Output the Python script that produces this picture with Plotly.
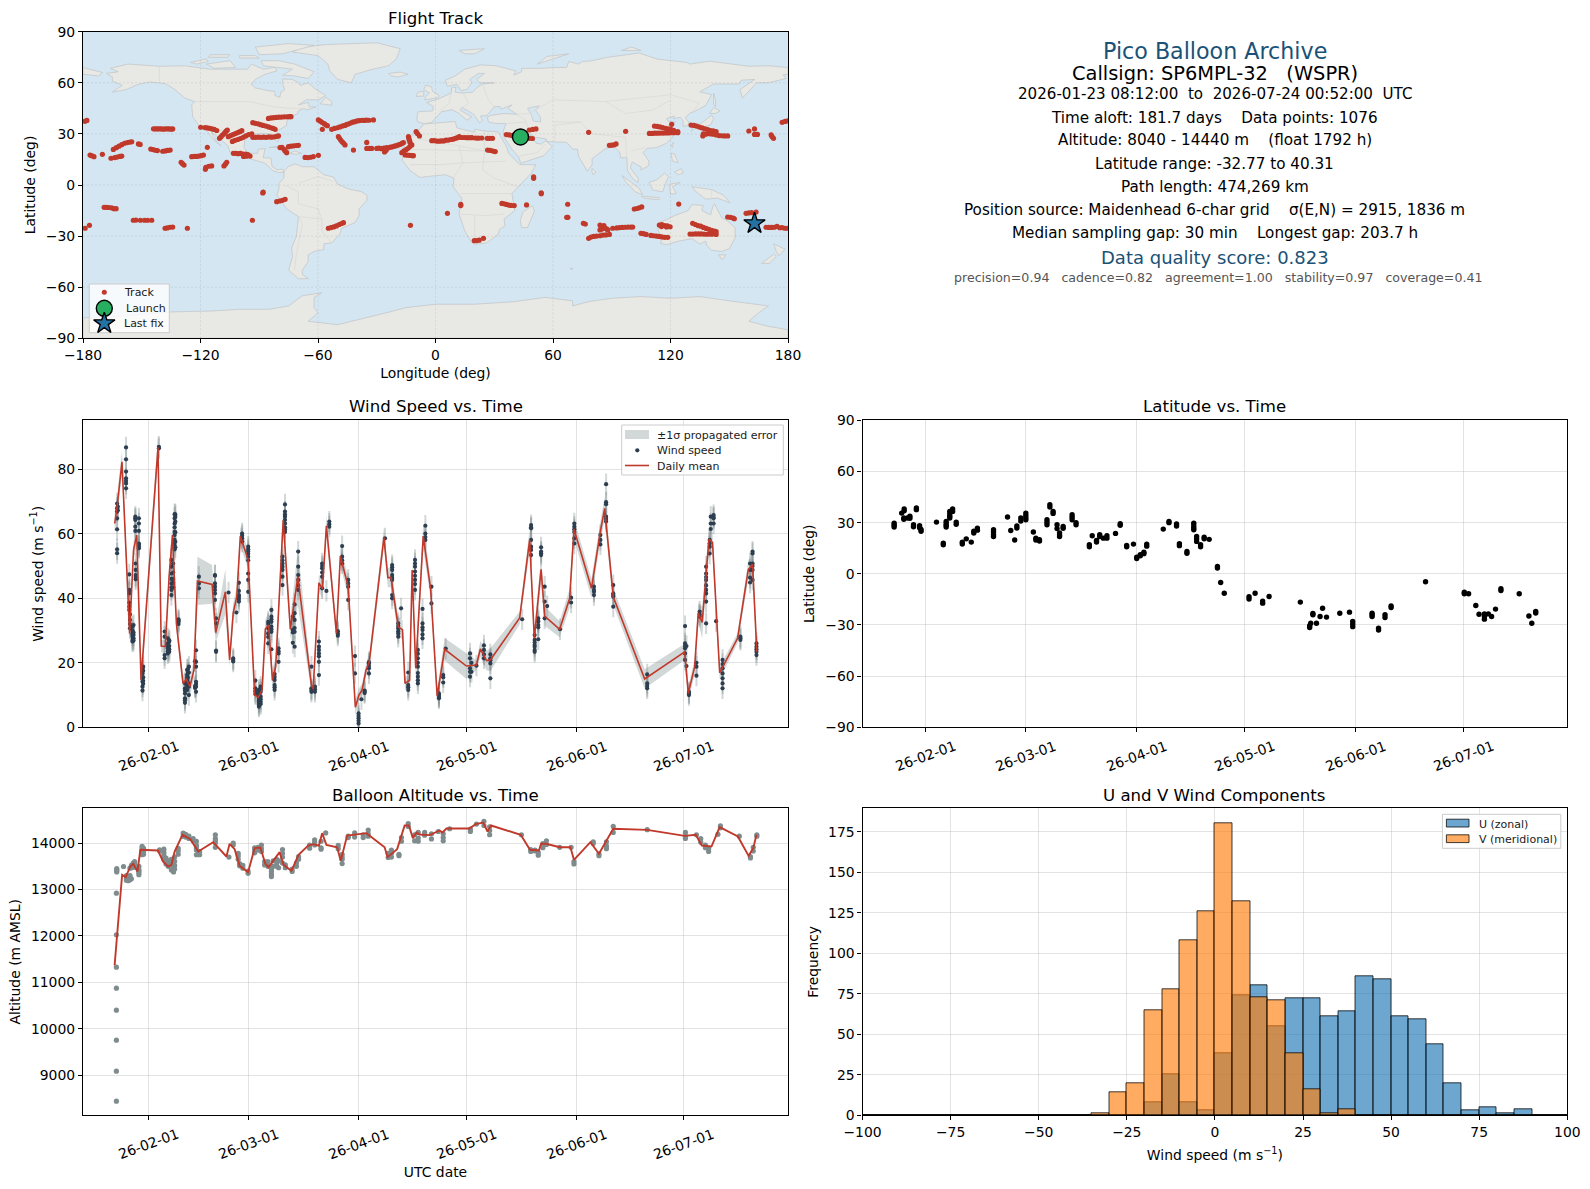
import pandas as pd
import plotly.graph_objects as go

W, H = 1590, 1189
FONT = "DejaVu Sans"
RED = "#c0392b"

# --- land outlines traced by eye (lon, lat) ---
land_polys = [
    # north + central america
    [(-168,65.5),(-162,66.5),(-166,68.5),(-157,71),(-141,69.7),(-128,70),(-115,68),(-108,68),(-96,68),(-94,71),(-88,68),(-82,69),(-81,67),(-87,65),(-92,62),(-94,59),(-92,57),(-85,55.3),(-82,55),(-82,52.5),(-79.5,51.5),(-79,54.5),(-77,56),(-78,59),(-78,62.3),(-73,62),(-70,60),(-69,58.5),(-65,60),(-61.5,56.5),(-56,52.5),(-60,50),(-66,50),(-70,47),(-65,48.5),(-64.5,46),(-61,45.8),(-66,44),(-67,45),(-70,43.5),(-70.5,41.7),(-74,40.5),(-76,37),(-76,35),(-81,31.5),(-80,27),(-80.5,25.3),(-82,27),(-84,30),(-89,30.2),(-94,29.5),(-97.3,27),(-97.8,22),(-95.5,18.7),(-91,18.5),(-90.5,21),(-87,21.4),(-88,16),(-84,15.8),(-83.5,11),(-81,9),(-78,9.3),(-77.3,7.5),(-80,7.3),(-83,8.3),(-87,12.8),(-92,14.5),(-96,15.8),(-105,19.5),(-106,23),(-112,29),(-114.7,31.5),(-112,26),(-109.5,23),(-112,25),(-115,29),(-117,32.5),(-120.5,34.5),(-124,40),(-124.5,47),(-123,49),(-128,51),(-133,56),(-138,59.5),(-146,60.5),(-152,59),(-158,56),(-165,54.5),(-160,58.5),(-165,61),(-165,63.5)],
    # greenland and arctic islands
    [(-73,78),(-68,81),(-55,82.5),(-30,83.5),(-18,80),(-20,74),(-24,70),(-33,67.7),(-41,65),(-43,60),(-50,62),(-54,67),(-55,71),(-60,76)],
    [(-80,73),(-72,71),(-62,66.5),(-65,62.5),(-72,64),(-78,64.5),(-73,68),(-88,70),(-89,73)],
    [(-117,71),(-105,73),(-102,69),(-113,68.5)],
    [(-90,76.5),(-78,77),(-62,82),(-75,83),(-92,81)],
    [(-125,72),(-117,74),(-116,72.5),(-122,71)],
    [(-100,76),(-92,76),(-90,74.5),(-100,74.5)],
    [(-115,76.5),(-105,76.5),(-106,75),(-116,75)],
    # caribbean, n. atlantic
    [(-59,47.7),(-53,46.8),(-53,49),(-56,51.5)],
    [(-85,22),(-80,23),(-74.3,20.2),(-77.7,19.9),(-81,22)],
    [(-74.4,18.5),(-72,20),(-68.4,18.6),(-71,18)],
    [(-24,65.5),(-18,66.3),(-14,65),(-19,63.4),(-22.7,64)],
    [(-5.5,50),(1.5,51.2),(1.7,52.8),(-1.5,55),(-2,57.7),(-5,58.6),(-6,56),(-3,54),(-5,52)],
    [(-10,52),(-6,52.2),(-6,55),(-9,54.5)],
    # south america
    [(-77.3,8),(-75,11),(-71.5,12.4),(-68,10.7),(-62,10.7),(-57,6),(-52,4.7),(-50,0.5),(-44,-2.5),(-38,-3.8),(-35,-6),(-35,-9),(-39,-14),(-39,-18),(-41,-22),(-48,-25.5),(-48.7,-28.5),(-53,-34),(-57,-34.5),(-57,-38),(-62,-39),(-65,-41),(-65,-45),(-68,-50),(-68,-52.5),(-65,-55),(-70,-55),(-75,-50),(-73,-42),(-73.5,-37),(-71,-30),(-70,-18.5),(-76,-14),(-81,-6),(-80,-2.5),(-80,1),(-77.5,4),(-77.5,7.5)],
    # africa, madagascar
    [(-6,35.8),(10,37.3),(11,33.5),(15,32.3),(20,31),(20,32.7),(25,31.7),(32,31.3),(32.5,30),(36,23),(37.5,18.5),(43,12),(51.2,11.9),(49,7),(42,-1),(39,-5),(40.5,-15),(35,-20),(35.5,-24),(32.7,-26),(32,-29),(26,-34),(20,-34.8),(18,-33),(15,-27),(12,-17),(13.5,-8),(9,-1),(9.5,4),(5,6),(-4,5),(-8,4.4),(-13,8.5),(-17,14.5),(-16,19),(-17,21),(-13,27.5),(-9.5,31)],
    [(49.5,-12),(50.5,-15.5),(47,-25),(44,-25),(43.3,-21),(44.5,-16)],
    # eurasia
    [(-9,37),(-9.5,39),(-9,43),(-1.5,43.5),(-1,46),(-4.5,48.4),(1.5,50.5),(4,52),(8,54),(8.3,57),(10.5,57.5),(10,54.5),(14,54),(19,54.5),(21,57),(24,59.3),(30,60),(22.5,60),(21,62),(25,65.5),(22,65.5),(17.5,62),(18.5,60),(16,56),(13,55.5),(11,59),(6,58),(5,61.5),(10,64),(15,68),(23,70.5),(31,70),(41,67),(40,64.5),(44,66.5),(44,68.5),(54,68.5),(60,69),(67,69),(68,72.5),(73,71),(75,72.5),(80,73),(88,75),(104,77.5),(113,74),(128,72),(130,71),(140,72.7),(160,69.7),(170,70),(180,69),(180,65),(177.5,64.7),(179,62.5),(170,60),(164,60),(162,57.5),(156.7,51),(155.5,56),(158,58),(163,62),(156,61.5),(155,59.3),(142,59.3),(135,54.7),(141,53),(138,46.7),(132,43),(130,42.3),(127.5,39.5),(129.3,37),(129,35),(126.3,34.5),(126.5,37.5),(125,39.7),(121.5,39),(122,40.5),(118,39),(119,37.3),(122.5,37),(119,35),(122,31),(121,28),(118,24.5),(113,22),(108,21.5),(106,19),(109,14),(109,11.5),(105,8.7),(105,10.5),(100.5,13.5),(99.5,10),(103.5,4),(103.5,1.3),(100.5,4),(98,8.5),(97.7,16),(94.5,16),(94,19.5),(91,22.5),(87,21.5),(80,15.5),(80,12),(77.5,8),(73,17),(72.5,21),(70,21),(68,23.5),(67,25),(57,25.5),(56.5,27),(51,28),(48,30),(50,26.5),(51.5,24.5),(54,24),(56.3,26),(59.7,22.5),(55,17),(52,16),(43.5,12.7),(42.5,16.5),(39,21),(35,28),(34.5,31.3),(36,36),(30,36.2),(27,37),(26.5,40),(29,41),(35,42),(41.5,41.5),(37,45),(39,47),(35,45.5),(33.5,44.5),(33,46),(30,46),(28,43),(26,40.8),(23,40.5),(24,38),(22.5,36.5),(19.5,41.5),(13.5,45.5),(12.5,44),(18.5,40),(16,38),(12,42),(8.5,44.2),(3,43),(0,39.5),(-2,36.7),(-5.5,36)],
    [(-180,65),(-172,64),(-170,66),(-175,67.5),(-180,69)],
    # asia islands
    [(142,54),(143,50),(143,46),(142,47.5)],
    [(130.5,31.5),(131.5,34),(136,36.5),(141,41),(142,39),(140.5,35.3),(136,33.7),(132,33)],
    [(140,42),(142,45.5),(145.3,43.5),(143,42)],
    [(120.3,18.5),(122,18.3),(124,13),(121,14)],
    [(122,7.5),(125.5,9.7),(126.5,7),(124,6)],
    [(120.2,23),(121.5,25),(121,22)],
    [(109,1.5),(113,3),(117,7),(119,5),(117.5,1),(116,-4),(111,-3),(109.5,0)],
    [(95.3,5.6),(104,-2),(105.8,-5.8),(102,-4),(97,2)],
    [(105,-6.5),(114.5,-7.5),(114,-8.7),(106,-7.6)],
    [(119.5,0.5),(125,1.5),(121,-1),(123,-5),(120,-5.5)],
    [(131,-1),(141,-2.7),(147,-6),(150.5,-10.5),(144,-7.7),(138,-8.3),(133,-4)],
    [(80,9.7),(82,7.5),(80.5,6),(79.8,8)],
    # australia, nz
    [(114,-22),(113.5,-26),(115.5,-32),(115,-34.3),(118,-35),(124,-33),(131,-31.5),(135,-34.7),(138,-33),(138.5,-35.5),(141,-38.3),(146,-39),(150,-37.5),(153,-31),(153,-25),(149,-21),(146,-19),(142.5,-11),(141.5,-13),(140.5,-17.5),(136,-15),(136.7,-12),(131,-11.5),(129,-15),(122,-18),(118,-20.3)],
    [(144.7,-41),(148.3,-41),(147,-43.5),(146,-43.5)],
    [(172.7,-34.5),(178.5,-37.7),(175.3,-41.6),(174,-39)],
    [(172.7,-40.6),(174,-42),(170.5,-46),(166.5,-46),(170,-43)],
    [(68.7,-49),(70.3,-49),(69.5,-49.7)],
    # far north
    [(12,79),(25,80),(20,77),(15,77)],
    [(52,71),(68,77),(57,75.5)],
    [(95,79),(105,79),(100,81)],
    # antarctica
    [(-180,-90),(-180,-78),(-160,-77),(-150,-76),(-135,-74.5),(-115,-74),(-100,-73),(-85,-73),(-75,-71),(-68,-65),(-58,-63.3),(-62,-66),(-62,-72),(-60,-75),(-65,-80),(-50,-82),(-35,-78),(-25,-75),(-15,-72),(0,-70),(20,-70),(40,-68.5),(56,-66),(70,-68),(70,-71),(78,-68.5),(90,-66.5),(105,-65.5),(120,-66.5),(135,-65.5),(150,-68),(170,-71),(165,-75),(160,-80),(170,-83),(180,-85),(180,-90)],
]
caspian = [(47,45),(53,46.5),(51,44),(53.5,40),(53.7,37),(50,37.5),(49,41)]
border_lines = [
    [(-141,69.7),(-141,60.5)], [(-123,49),(-95,49),(-83,46),(-75,45),(-67,45)], [(-117,32.5),(-106,31.7),(-97.3,26)],
    [(-70,-18.5),(-58,-20),(-58,-27),(-53,-34)], [(-70,-18.5),(-68,-23),(-71,-40),(-72,-50)], [(-77,0),(-70,-4),(-70,-11),(-60,-14),(-58,-20)], [(-70,1),(-60,5),(-52,2)],
    [(-17,21),(25,20),(25,31.7)], [(-9,27),(12,23),(25,20)], [(12,23),(14,13),(9,4)], [(25,20),(24,9),(30,4),(42,-1)], [(-13,12),(3,12),(14,13),(36,14)], [(13,-5),(30,-5),(39,-5)], [(12,-17),(25,-18),(35,-17)], [(20,-34),(20,-18)],
    [(2,43),(7,48),(8,54)], [(14,54),(17,48),(13.5,45.5)], [(24,59),(27,50),(30,46)], [(41.5,41.5),(48,42),(60,50),(87,49),(120,53),(135,48),(131,43)], [(87,49),(97,42),(111,44),(120,50)], [(60,37),(74,37),(80,30),(97,28)], [(61,25),(61,35),(74,37)], [(48,30),(46,38),(41.5,41.5)], [(36,36),(46,37)], [(43,17),(52,19),(56,24)], [(97,28),(98,10)], [(100,20),(107,22)], [(141,-2.7),(141,-9)],
]

# --- flight track (lon, lat) ---
track_pts = [
    (-179,37.4),(-178,37.9),
    (-144,33),(-143,32.9),(-142,33),(-141,32.9),(-140,33),(-139,32.8),(-138,33),(-137,32.9),(-136,33),(-135,32.8),(-134.2,32.9),
    (-119.9,33.9),(-117.7,33.7),(-116.5,33.5),(-115.3,33.3),(-114.2,33),(-113,32.6),(-111.7,32),
    (-110.3,27.4),(-109.6,28.2),(-108.9,29.2),(-108.2,29.9),(-107.5,30.8),(-106.9,31.6),(-106.3,32.3),
    (-105.8,28.4),(-104.6,29),(-103.4,29.6),(-102.2,30.2),(-101,30.8),(-99.9,31.3),(-98.9,31.9),
    (-103.7,25.6),(-102.4,26.2),(-101,26.7),(-99.6,27.3),(-98.2,28),(-96.9,28.8),(-95.4,29.6),(-93.8,30),
    (-93.3,36.6),(-92,36.2),(-90.6,35.9),(-89.3,35.4),(-88,35),(-86.6,34.6),(-85.2,34.1),(-84,33.6),(-82.9,33.2),(-81.9,32.7),
    (-93.3,28),(-92,28),(-90.6,28.1),(-89.2,28),(-87.8,28.1),(-86.4,28),(-85,28.2),(-83.6,28.1),(-82.2,28.3),(-81.1,28.5),(-80.2,28.8),
    (-85.3,39.1),(-84,39.4),(-82.7,39.5),(-81.3,39.7),(-80,39.8),(-78.6,39.9),(-77.2,40),(-75.8,40),(-74.6,40.1),(-73.8,40.1),
    (-59.8,38.2),(-58.8,37.5),(-57.8,36.7),(-56.8,36),(-56,35.3),(-55.2,34.8),(-57.8,32.7),
    (-53,32.7),(-51.6,33.2),(-50.2,33.6),(-48.8,34.1),(-47.4,34.7),(-46.2,35),(-45.3,35.6),
    (-44.5,35.8),(-43.4,36.4),(-42.3,36.9),(-41.2,37.2),(-40,37.6),(-38.8,37.8),(-37.6,38),(-36.4,37.9),(-35.2,38.1),(-34,38),(-31.7,38.2),
    (-49.6,28.4),(-49,27.4),(-48.4,26.4),(-47.7,25.4),(-47,24.6),(-46.2,23.5),
    (-35.1,25),(-35.1,21.5),(-33.8,21.5),(-32.6,21.5),(-41.9,20.5),
    (-30,21.5),(-28.8,21.6),(-27.6,21.3),(-26.4,21.6),(-26,19.4),(-25.2,20.4),(-25,21.9),(-24,21.8),(-23,22.2),(-22,22.4),(-21,22.8),(-20,23.1),(-19,23.5),(-18,23.9),(-17.2,24.4),(-16.4,24.9),
    (-17.2,19),(-16.2,19.9),(-15.2,20.6),(-14.2,21.4),(-13.2,22.4),(-12.1,23.5),
    (-13.8,28.4),(-13.6,27.2),(-13.3,26.2),(-13,25),(-12.5,23.5),
    (-15.5,17.6),(-14.2,17.5),(-13,17.4),(-11.8,17.2),(-11.3,17.2),
    (-9.9,31.3),(-9.2,30.2),(-8.2,28.8),
    (-1.9,26),(-0.6,26),(0.6,25.8),(1.8,25.7),(3,25.9),(4.2,25.9),(5.4,26.3),(6.6,26.4),(7.8,26.7),(9,26.9),(10.2,27.4),(11.2,27.8),(12.1,28.4),(13.2,27.9),(14.6,27.9),(16,27.8),(17.4,27.8),(18.6,27.8),(20.4,27.6),(21.8,27.5),(23.6,27.6),(26.4,27.4),(27.6,27.4),(29.1,27.4),
    (-164.5,20.9),(-163,21.9),(-161.6,22.8),(-160.2,23.7),(-158.8,24.5),(-157.4,24.9),(-156,25.2),(-155.1,25.4),
    (-151.7,24.1),(-150.8,23.8),
    (-176.4,17.6),(-175.6,17.2),(-174.4,16.6),(-170.1,18),
    (-165.7,15.7),(-163.8,16.1),(-162.6,16.4),(-161.2,16.8),(-160.2,17),
    (-145.4,21.1),(-144.2,20.8),(-143,20.4),(-142,20.2),(-139.3,19.8),(-138,20),(-136.8,20.3),(-135.5,20.5),
    (-116.5,22.1),(-129.9,13.3),(-129.2,12.5),(-128.4,11.7),
    (-124.5,16.6),(-123.2,16.8),(-122,16.8),(-120.8,17),(-119.6,17.2),(-118.5,17.6),
    (-117.5,9.2),(-117.3,10.4),(-115.8,11),(-114.3,11.2),(-108,11.2),(-107.3,12.2),(-106.6,13.3),
    (-103.2,18.6),(-102,18.6),(-100.8,18.4),(-99.6,18.6),(-98.4,18.2),(-98,16.8),(-97,18.2),(-96.6,16.9),(-95.8,17.8),(-94.7,17),
    (-79.4,22),(-78.4,22.1),(-77.4,21),(-76.8,20),(-76,19),(-75.1,22.5),(-73.8,22.8),(-72.4,23),(-71,23.2),(-70,23.3),
    (-66.6,16.2),(-65.2,16.1),(-63.8,16.3),(-62.4,16.7),(-59.8,17.4),
    (-88.2,-4.7),(-88,-4.2),(-81.1,-9.8),(-79.6,-9.4),(-78.2,-9),(-76.8,-8.4),
    (-169.2,-13.1),(-168,-13.1),(-166.8,-13.2),(-165.4,-13.4),(-164.2,-13.9),(-163.1,-13.9),
    (-154.3,-20.7),(-153,-20.6),(-150.7,-20.7),(-148.6,-20.7),(-147,-20.7),(-144.9,-20.7),
    (-138.1,-25.4),(-137,-25.2),(-135.6,-24.8),(-134.2,-24.7),(-126.7,-25.4),(-93.5,-20.7),
    (-54.7,-25.4),(-53.4,-25),(-52,-24.6),(-50.6,-24),(-49.2,-23.2),(-48,-22.6),(-47,-22.1),(-12.8,-23.7),
    (-178.9,-25.4),(-176.7,-23.7),
    (26.6,20.5),(28,20.3),(29.4,19.9),(30.5,19.6),
    (36.2,29.6),(37.6,29.4),(39,29),(40,29.4),(47.9,32.3),(49.6,32.6),(51.3,32.9),(47.9,27.4),(49.5,27.3),
    (50.1,3.9),(50.1,4.8),(54,-5.1),(54,-4.6),(46.5,-11.7),(12.9,-12.1),(12.9,-11.4),(6.1,-16.6),
    (33.9,-10.8),(35,-11),(36.2,-11.4),(37.4,-11.8),(38.6,-12),(40.2,-12.1),
    (19.8,-32.7),(21,-32.6),(22.3,-32.4),(24.5,-31.3),
    (67.5,-11.3),(67,-19),(67.6,-19),(75.5,-22.5),(76.5,-22.9),
    (78.2,30.9),(97.1,31.5),(88.8,23.3),(90,23.4),(91.2,23.6),(92.2,24.1),
    (109.2,30.3),(110.6,30.3),(112,30.4),(113.4,30.4),(114.8,30.5),(116.2,30.5),(117.6,30.6),(119,30.6),(120.4,30.7),(121.8,30.7),(123.7,30.7),
    (111.8,34.6),(113.2,34.4),(114.6,34.1),(116,33.7),(117.4,33.3),(118.8,32.9),(120.2,32.6),(121.6,32.1),(123.7,31.3),(120.6,35.6),
    (130.5,35.2),(132,35),(133.4,34.6),(134.8,34),(136.2,33.5),(137.6,33),(139,32.5),(140.4,32),(141.8,31.8),(143.3,31.3),
    (136.5,28.8),(136.8,30),(138,29.8),(139.3,30.2),(140.6,30),(142,29.8),(143.4,29.4),(144.8,29),(146.2,28.9),(147.6,28.8),(149.2,28.8),
    (160,31.7),(162.9,32.9),(162.9,29.7),(164.4,29.7),(171.4,29.4),(171.9,28.4),(172.6,27.4),
    (177,36.8),(178.5,37.3),(179.9,37.6),
    (101.5,-14.1),(102.8,-13.8),(104,-13.4),(105.3,-12.9),(124.2,-11.2),
    (149.2,-18.8),(150.6,-19),(152,-19.4),(152.6,-19.8),
    (158.6,-16.6),(160,-16.4),(161.4,-16.2),(163.7,-15.9),
    (168.8,-24.8),(170.2,-24.9),(171.6,-24.9),(173,-24.8),(174.4,-24.3),(175.8,-25.1),(177,-25),(178.4,-25.4),(179.9,-25.4),
    (78.2,-31.3),(79.4,-30.6),(80.8,-30.2),(82.2,-30),(84,-29.8),(85.5,-29.4),(87,-29.3),(88.8,-29),
    (84,-23.5),(84.6,-24.6),(85,-25.8),(84,-26.4),(86,-23.9),(86.6,-25.4),(87.4,-25.8),(88,-26.4),
    (90.5,-25.4),(92.6,-25.2),(94,-25),(95.4,-24.9),(96.8,-24.8),(98.2,-24.7),(99.6,-24.7),(100.7,-24.7),
    (104.9,-28.4),(106.2,-28.6),(107.6,-29),(110,-29.6),(111.4,-29.8),(112.8,-30),(114.2,-30.2),(115.6,-30.5),(117,-30.7),(118.6,-30.7),
    (114.3,-23.5),(115.6,-23.3),(117,-23.8),(118.4,-24),(119.8,-24.5),(115.4,-24.4),(118,-24.6),
    (131.3,-22.5),(132.7,-23.2),(134,-23.8),(135.4,-24.2),(136.8,-24.9),(138.2,-25.5),(139.6,-26),(141,-26.6),(142.4,-27),(143.3,-27.4),
    (130,-28.8),(131.4,-28.8),(132.8,-28.7),(134.2,-28.7),(135.6,-28.7),(137,-28.8),(138.4,-28.9),(139.8,-28.8),(141.2,-28.9),(143.3,-29),
]
launch_lon, launch_lat = [43.4], [28.2]
last_lon, last_lat = [162.9], [-22.5]

# --- info panel ---
info_lines = [
    ("Pico Balloon Archive", 22.2, "#1a5276", 50.7),
    ("Callsign: SP6MPL-32\u00a0\u00a0\u00a0(WSPR)", 19.4, "#000000", 73.5),
    ("2026-01-23 08:12:00\u00a0\u00a0to\u00a0\u00a02026-07-24 00:52:00\u00a0\u00a0UTC", 15.1, "#000000", 94),
    ("Time aloft: 181.7 days\u00a0\u00a0\u00a0\u00a0Data points: 1076", 15.2, "#000000", 117.6),
    ("Altitude: 8040 - 14440 m\u00a0\u00a0\u00a0\u00a0(float 1792 h)", 15.2, "#000000", 140.5),
    ("Latitude range: -32.77 to 40.31", 15.2, "#000000", 163.5),
    ("Path length: 474,269 km", 15.2, "#000000", 186.6),
    ("Position source: Maidenhead 6-char grid\u00a0\u00a0\u00a0\u00a0\u03c3(E,N) = 2915, 1836 m", 15.2, "#000000", 209.6),
    ("Median sampling gap: 30 min\u00a0\u00a0\u00a0\u00a0Longest gap: 203.7 h", 15.2, "#000000", 232.6),
    ("Data quality score: 0.823", 18, "#1a5276", 257.6),
    ("precision=0.94\u00a0\u00a0\u00a0cadence=0.82\u00a0\u00a0\u00a0agreement=1.00\u00a0\u00a0\u00a0stability=0.97\u00a0\u00a0\u00a0coverage=0.41", 12.6, "#555555", 278),
]

# --- wind: t is days from 2026-02-01 ---
# daily mean (t, mean, half width of grey band)
wind_daily = [
    (-9.38,63.2,3),(-8.7,68.4,3.5),(-7.33,82.3,3.5),(-5.2,29.1,2),(-4.1,55,2.5),(-3.2,59.6,4),(-2,14.7,3),(2.75,86.8,4),(3.65,25.2,2),(4.8,25,2),
    (5.85,46.7,3),(6.8,59.6,3.5),(7.9,32.2,2),(9.75,13.6,2.5),(10.7,14.9,3),(11.7,12.6,3),(12.8,17.8,3),(13.8,45.4,7.5),(17.9,44.3,6),(18.9,29.4,3),
    (21.6,42,7),(22.8,20.9,2),(23.8,35.5,3),(24.8,40.5,3),(25.8,59.3,3),(28,51.9,3),(29.8,10,2.5),(30.8,9.3,3),(31.9,11.6,3),(32.8,30.5,3),
    (33.7,31.7,4),(34.8,14.5,3),(35.7,18.8,3),(37.8,64.3,4),(39.8,30.4,3),(41.9,46.7,9),(45.7,13.1,2),(46.2,11.8,2),(47.8,44.8,2.5),(48.8,42.9,3),
    (49.9,62.5,3),(52.7,29.1,2.5),(53.8,53.1,3),(56,43.6,3),(58,6.2,2.5),(59,10,2),(59.9,11.6,2),(61,17.8,2),(61.9,20.3,2.5),(66,58.9,3),
    (67.1,46.4,3),(68,46.4,3),(70,31.2,3),(71.2,30.2,3),(71.9,13.6,2),(73.2,14.6,2),(73.9,48.8,3),(74.9,18.3,3),(77,59.3,4),(79.1,42.6,3),
    (80.9,9.7,2),(83,24.2,3.5),(89.1,19,4),(91.9,19.3,1.5),(93,24.3,2.5),(94.7,20.7,3),(95.8,20.9,3.5),(104,33.9,2),(106.8,58.1,3.5),(108.1,27.6,3),
    (110,49,4),(111,34.5,3),(115.2,30.4,2.5),(118,40,3),(119.2,61.5,3),(124.1,43.1,3),(126.5,60.1,3),(127.8,67.9,3.5),(130.2,40.5,2.5),(139,15,3),
    (150.2,23.4,2.5),(151.2,10.5,2),(153,18.8,2.5),(154,35.5,3),(155.1,32.5,5),(157,58.4,4),(158,57.3,3),(160,16.9,2),(165,27.6,1.5),(168,48.8,3),
    (169.2,50.6,3.5),(170.4,23.4,2.5),
]
# individual wind readings grouped by time (t, [speeds])
wind_groups = [
    (-8.7,[69.4,67.9,66.9,64.8,61.4,55.2,54]),(-8.5,[68.4,67.3]),(-6.2,[86.8,83.1,79.3,77.2,75.6,74.1,76.4]),
    (-5.3,[47.4,42.6,41.5,38.6,36.4,42,37.4]),(-5.1,[33.3,30.7,32,35]),(-4.4,[31.2,29.1,28.1,27.1,26.6,30,28.6]),(-4.1,[31.7,28.6,27.6,26.9,29.4]),
    (-3.6,[65.3,64.3,62.2,60.9,64.8]),(-2.6,[64.8,63.2,60.9,56.5,55.5,56,57]),(-3.5,[50.8,48.8,47.2,45.9,46.6]),
    (-1.6,[18.3,16.7,14.2,12.6,11.4,17.5,15.4]),(-1.4,[17.5,15.5,13.5,18.8,14.4]),(3,[86.5,87]),(4.6,[29.7,28.1,22.4,21.4]),(5.5,[27.6,26,24.5,22.9,25.2,23.6]),(5.9,[26.5,25.2,23.4,24.2,27]),
    (6.5,[51.9,49.8,47.7,44.6,42.6,41,46,43.4]),(7,[48,46,43.4,44.8,50.8]),(7.4,[66.1,64.8,63.2,62,59.6,58.1,56.5,55.2,60.6,57.4]),(7.6,[65.3,63.8,60.5,57.5,66,55.8]),(8.5,[33.5,32.7,32,33]),
    (10.3,[13.6,12.1,10.5,9,7.6,11.4,8.4]),(10.9,[17.8,16.2,14.6,15.4,13,11.6]),(11.4,[18.8,12.6,10,17,13.6]),(11.1,[16.8,15.4,18]),(13.4,[23.9,20.3,18.8,14.1,12.6,11,13.4]),(13.1,[12.2,20.5,12.8]),
    (14.2,[46.7,44.6,43.1]),(18.7,[47.2,44.6,42.6,41.5,39.5,47,43.6]),(19,[33.8,32.2,23.4,23.8]),(22.5,[41.8]),(23.8,[20.9,20.4,21.4]),(24.7,[35.6]),
    (25.4,[44.8,42.3,40.5,39,39.8,41]),(26.3,[60.1,58.6,57.6,59.4]),(28,[56,54.5,52.9,47.7,45.7,42,55.2,53.8,51.8]),(30,[14.5,12.1,10.3,11.2]),
    (31,[11.6,10,8.5,6.9,9.2,7.5,8,10.8,6.4]),(31.5,[12.6,11,9.5,7.9,8.7,7.2,11.8]),(33.6,[32.7,30.7,29.1,26,32,28]),(34.5,[36.4,34.3,32.7,31.2,29.6,24.2,33.5,30.4]),
    (35.4,[16.5,14.7,13.1,11.6,15.6,12.4]),(36.5,[24.5,22.9,20.3,23.6]),(37.6,[52.9,50.8,48.8,46.7,44.1,49.8,51.8]),(38.3,[69.1,66.9,65.3,63.2,60.6,64.3,62,66,61.4]),
    (40.5,[34.3,30.2,26.2,29.4]),(41,[38.1,33.3,25,29.6,30.8,35.4]),(42,[54.5,49.8,47.2,45.7,42.6,44]),(45.7,[18.8,12.1,11,11.6]),(46.7,[12.6,11,11.8]),
    (47.8,[26.6,25,22.9,20.3,16.2,22,24]),(48.7,[50.8,49.3,46.7,43.1,48,50]),(49.9,[42.3]),(50.7,[63.8,62.2,63]),(53.1,[29.1,28.4,29.8]),(54.3,[56.2,52.9,50.8,51.8]),
    (56,[45.7,43.6,39.5,44.6]),(57.9,[22.1,16.7]),(58.9,[4.3,3.5,2.8,1.2,2]),(59.7,[8.7]),(60.6,[11,11.4,10.6]),(61.8,[19.8,18.3,16.7,20.2,19]),(66.3,[58.6]),
    (68.3,[50.3,48.8,47.2,45.7,41,49.6,46.4,40]),(70,[32.2,30.7,29.1,28.1,29.8,31.4]),(70.8,[36.9]),(72.8,[17,13.1,11.6,12.4]),(74.7,[51.9,49.8,48.3,45.7,42.6,50.8,47,44.4]),
    (75.5,[24,21.4,18.8,15.7,13.6,16.8,14.6,22.8,20]),(76.8,[36.7,32.2,30.2,27.6,31,28.8]),(77.6,[62.5,60.1,58.1,59]),(79.3,[43.6,38.4]),
    (81.4,[9.7,10,9,10.5,9.4]),(82.6,[16.2,15.5,13.9]),(83.3,[24.4]),(90.1,[22.9,21.4,18.3,17.2,15.7]),(90.5,[20,17.2]),(91.9,[19.1]),
    (94,[25.4,24,21.4,22.6]),(95.8,[22.6,19.8,15.2,20.8,21.4]),(104.7,[33.5]),(107.2,[62.7,61.7,58.1,56,53.4,62,55]),(108.2,[28.6,27.1,25.5,24,26.3,25,23.4]),
    (109.2,[33.8,32.7,31.7,27.3,33,31]),(110,[55.8,54.5,53.4,54]),(111,[43.6,39,33.8]),(111.7,[37.6]),(115.3,[30.4]),(118.4,[40.2,38.7]),
    (119.3,[63.2,62.2,60.6,58.6,57,61.4]),(124.8,[43.6,42.6,41,42]),(126.6,[59.6,58.1,56.7]),(128.2,[75.4,69.8,65.3,63.8,64.6,69.2]),(130.2,[44.1,41.5,40.5,37.4,41]),
    (139.7,[16.4,13.6,12.1,12.8]),(150.3,[31.4,26,24.5,22.9,20.9,25.2]),(150.7,[19,25.2]),(151.4,[11,10,10.5]),(153.5,[20,18.8,16]),(154.4,[35.9,34.3,35]),
    (156.2,[49.8,47.7,45.7,42.6,41.5,39,32.2,44,46.6]),(157.5,[65.3,63.2,61.5]),(157.2,[58.1,56,53.9,57]),(158.3,[65.8,64.8,63.2,65.2]),(159,[32.9]),
    (160.8,[20.9,18.3,16.7,15.2,13.6,12.1,19.6]),(165.8,[28.1,27.1,27.6]),(168.5,[50.8,48.8,44.9,46.4]),(169.2,[54.5,53.9,50.8,48.8,45.7,50]),(170.3,[26,25,23.4,22.4,24.2]),
]
WIND_SIGMA = 3.3

# --- latitude: (t, [lats]) ---
lat_groups = [
    (-8.6,[29.7,28.5,27.4]),(-6.5,[35.6]),(-5.8,[38,37]),(-5.9,[32.7,32]),(-4.9,[32.7]),(-4.2,[33.7,32.6]),(-3.2,[28.8,27.6]),(-2.4,[38.6,37.6]),(-1.5,[28.2,27]),(-1.1,[26,24.9]),
    (3.2,[30.3]),(5.1,[18,17]),(5.9,[30.7,29.5,28.4,27.4]),(6.9,[36.6,35,33.8,32.7]),(7.7,[38,36.6]),(8.7,[30.3,29]),(10.4,[17.4,18.5]),(11.5,[20.5]),(12.9,[18.6]),(13.6,[23.9,25]),(14.6,[26.8,25.6]),
    (19.1,[25.8,24.5,23,21.9]),(23,[33.3]),(23.9,[25.4]),(25,[19.8]),(25.6,[26.8,28]),(26.7,[32.7,31]),(28.1,[35.6,34.2,32.8,31.7]),
    (30.2,[24.5]),(30.9,[20.9,19.8]),(31.9,[20,19.2]),(34,[31.7,30.2,28.8]),(34.8,[40.5,39.1]),(35.7,[36.6,35.4]),(36.8,[28.8,26.5]),(37.5,[23.9,22.8,21.9]),(38.5,[27.8,26.7]),
    (41,[34.6,33.2,31.7]),(42.1,[30,28.8]),(45.8,[17,15.8]),(46.6,[22.3]),(47.8,[18.6,19.5]),(48.7,[22.9,21.8]),(49.7,[20.9]),(50.7,[22.3,20.9]),(53.1,[23.7]),(54.4,[29.4,28.4]),
    (56.2,[16.6,15.8]),(58.1,[17.4]),(59,[9.8,9]),(60,[11.2,10.6]),(61,[12.7,11.8]),(61.8,[17.4,16.2]),(66.4,[26.2]),(68,[30.7,30]),(70.1,[29.2,28]),(70.9,[17.6,16.5]),(73,[13.1,12]),
    (74.9,[29.7,28,26.8,25.8]),(75.7,[21.9,20.5,19]),(76.8,[17,15.8]),(77.8,[21.5,20.5]),(79.2,[20.2]),(81.5,[4.3,3.4]),(82.4,[-5.1]),(83.4,[-11.4]),
    (90.3,[-13.5,-14.8]),(92,[-11.4]),(94.1,[-16,-17.2]),(95.9,[-13.3]),(104.6,[-16.6]),(107.2,[-30.5,-31.5]),(107.5,[-29]),(108.1,[-23.3,-24]),(109.1,[-29]),(110.1,[-25]),(110.8,[-20.2]),(111.9,[-25.4]),
    (115.6,[-23.1]),(118.3,[-22.5]),(119.2,[-28,-29.5,-31]),(124.6,[-23.1,-24,-25]),(126.4,[-31.9,-33]),(128.2,[-24,-25.6]),(129.9,[-18.8,-19.8]),(139.5,[-4.7]),
    (150.3,[-10.8,-11.7]),(151.5,[-11.7]),(153.5,[-18.6]),(154.4,[-23.7]),(155.9,[-23.5,-25,-26.6]),(157,[-23.5]),(157.9,[-25]),(159,[-20.7]),(160.5,[-8.8,-9.8]),(165.6,[-11.7]),(168.3,[-24.7]),(169.1,[-29]),(170.2,[-22.1,-23]),
]

# --- altitude ---
alt_daily = [
    (-9.4,11370),(-7.3,13316),(-6.3,13267),(-5,13497),(-4.2,13554),(-3,13389),(-2.2,13856),(2.75,13841),(4.15,13604),(5.55,13497),(6.5,13533),(7.4,13820),(9.6,14179),(11.8,14086),(14,13820),(18.2,14021),(21.9,13712),(22.8,13985),(24.2,13870),(25.6,13511),(27.96,13375),(29.8,13892),(31.4,13906),(32.8,13554),(33.7,13482),(36.8,13805),(37.9,13533),(40.1,13403),(42.1,13748),(44.8,13949),(46.2,13977),(47.8,13943),(48.7,14215),(49.9,13963),(52.9,13912),(53.9,13618),(55.7,14164),(58.3,14193),(61.1,14215),(66.2,13912),(67,13697),(69.7,13870),(70.9,14179),(71.8,14380),(73,14380),(74.1,14107),(75.1,14229),(76,14186),(78.8,14172),(81.6,14272),(82.4,14229),(83.5,14315),(89.9,14315),(91.7,14408),(93.8,14444),(95,14250),(96,14380),(104.3,14179),(106.9,13856),(109.4,13841),(110,13985),(111.4,13985),(115.2,13912),(118.2,13912),(119.2,13640),(123.8,14021),(126.2,13770),(130.2,14308),(139.7,14286),(150.2,14157),(153.3,14179),(155,13949),(157.7,13927),(160,14344),(165.1,14143),(168.1,13726),(169.4,13892),(170.3,14179),
]
alt_groups = [
    (-8.9,[8442,9089,9757,10403,10877,11329,12025,12923]),(-8.8,[13430,13400,13380,13450]),(-6.9,[13497]),
    (-6.1,[13200,13240,13300]),(-5.6,[13190,13230,13270]),(-5.1,[13210,13260,13300,13460]),(-4.7,[13470,13520,13230]),(-4.2,[13570,13490,13530]),(-3.8,[13550,13600,13480]),(-2.6,[13500,13430,13320,13400,13360]),
    (-1.7,[13930,13800,13750,13850,13900]),(-1.3,[13890,13760,13820]),(3.2,[13855,13830]),(4.4,[13870,13800,13700,13650,13740]),(5,[13680,13600,13550]),(5.6,[13620,13560,13500]),(6.5,[13650,13530,13440,13420,13590]),(7.1,[13600,13480,13380,13540]),(7.4,[13700,13520,13440,13610]),
    (8.4,[13890,13830,13760]),(9.8,[14215,14150]),(10.5,[14190,14130]),(11.4,[14150,14100]),(12.6,[14100,14050]),(13.5,[14040,13950,13850,13750,13900]),(14.4,[13750,13820]),
    (18.8,[14180,14100,14000,13910,14050]),(22.6,[13700]),(23.8,[13960,14000]),(25.2,[13780,13650,13720]),(25.6,[13510,13560]),(26.5,[13460,13520]),(27.96,[13350,13400]),
    (29.8,[13900,13850,13790]),(30.7,[13910,13850]),(31.7,[13960,13880,13820]),(32.6,[13530,13600]),(33.5,[13600,13500]),(34.5,[13280,13390,13450,13330]),(35,[13500,13620]),(36,[13570,13500,13650]),(36.5,[13470,13620]),
    (37.6,[13860,13780,13700,13570]),(38.4,[13530,13470]),(40.3,[13390,13440]),(41.5,[13570,13500]),(42.1,[13710,13650]),(45.2,[13960,13890]),(46.6,[14070,13960,14020]),(48.4,[14040,13900,13870]),(49.7,[14220]),
    (53.2,[13950,13880]),(54.3,[13760,13650,13560,13700]),(56,[14150,14120]),(57.8,[14220,14130]),(60.2,[14180,14120]),(61.6,[14280,14200,14150]),(67.2,[13780,13690]),(68.1,[13850,13780,13700]),(70.2,[13760,13730]),
    (70.9,[14040,14120]),(72.8,[14420,14360]),(74.6,[14180,14050]),(75.6,[14230,14110,14040]),(77.4,[14230,14170]),(79.3,[14200,14090]),(81.2,[14250]),(82.6,[14200,14120,14050]),
    (84.4,[14310]),(90.2,[14300,14250]),(91.9,[14410]),(94,[14470,14380]),(95.6,[14350,14270,14180]),(104.5,[14180]),(107.1,[13860,13820]),(108.3,[13850,13830]),(109.2,[13800,13740]),(110.5,[13990,13900]),(111.5,[14050,13970]),
    (115.2,[13910]),(118.4,[13910]),(119.2,[13600,13550]),(124.6,[14030,13990]),(126.2,[13770,13730]),(128.3,[14030,13940,13880]),(130.2,[14360,14230]),(139.7,[14290]),
    (150.4,[14230,14100,14150]),(153.5,[14180]),(154.7,[14100,14020]),(156,[13960,13900]),(156.9,[13820,13880]),(159.5,[14190]),(160.2,[14370,14330]),(165.5,[14150]),(168.6,[13710,13680]),(169.4,[13910,13830]),(170.4,[14180,14150]),
]

# --- histogram, 5 m/s bins from -100 ---
bin_left = list(range(-100, 100, 5))
u_counts = [0]*16 + [8,25,8,3,38,74,80,55,72,72,61,64,86,84,61,59,44,20,3,5,1,4] + [0]*2
v_counts = [0]*13 + [1,14,20,65,78,108,126,180,132,73,71,38,16,1,4] + [0]*12

date_ticks = ["2026-02-01", "2026-03-01", "2026-04-01", "2026-05-01", "2026-06-01", "2026-07-01"]
map_x_ticks = [-180, -120, -60, 0, 60, 120, 180]
map_y_ticks = [-90, -60, -30, 0, 30, 60, 90]


def to_dates(ts):
    base = pd.Timestamp("2026-02-01")
    return [base + pd.Timedelta(days=t) for t in ts]


def flatten(groups):
    xs, ys = [], []
    for t, vals in groups:
        for v in vals:
            xs.append(t)
            ys.append(v)
    return xs, ys


def pxx(x):
    return x / W


def pxy(y):
    return 1 - y / H


fig = go.Figure()

# map
for poly in land_polys:
    fig.add_trace(go.Scatter(x=[p[0] for p in poly] + [poly[0][0]], y=[p[1] for p in poly] + [poly[0][1]],
                             mode="lines", fill="toself", fillcolor="#e8e8e4",
                             line=dict(color="#c4c8ca", width=0.8), hoverinfo="skip", showlegend=False))
fig.add_trace(go.Scatter(x=[p[0] for p in caspian] + [caspian[0][0]], y=[p[1] for p in caspian] + [caspian[0][1]],
                         mode="lines", fill="toself", fillcolor="#d4e6f1",
                         line=dict(color="#c4c8ca", width=0.8), hoverinfo="skip", showlegend=False))
for seg in border_lines:
    fig.add_trace(go.Scatter(x=[p[0] for p in seg], y=[p[1] for p in seg], mode="lines",
                             line=dict(color="#d8d9d6", width=0.7), hoverinfo="skip", showlegend=False))
for v in map_x_ticks[1:-1]:
    fig.add_trace(go.Scatter(x=[v, v], y=[-90, 90], mode="lines", hoverinfo="skip", showlegend=False,
                             line=dict(color="rgba(120,120,120,0.22)", width=0.7, dash="2px,2px")))
for v in map_y_ticks[1:-1]:
    fig.add_trace(go.Scatter(x=[-180, 180], y=[v, v], mode="lines", hoverinfo="skip", showlegend=False,
                             line=dict(color="rgba(120,120,120,0.22)", width=0.7, dash="2px,2px")))
fig.add_trace(go.Scatter(x=[p[0] for p in track_pts], y=[p[1] for p in track_pts], mode="markers", name="Track",
                         marker=dict(color=RED, size=5.2), showlegend=False))
fig.add_trace(go.Scatter(x=launch_lon, y=launch_lat, mode="markers", name="Launch", showlegend=False,
                         marker=dict(color="#27ae60", size=16, line=dict(color="black", width=1.4))))
fig.add_trace(go.Scatter(x=last_lon, y=last_lat, mode="markers", name="Last fix", showlegend=False,
                         marker=dict(color="#2471a3", size=16, symbol="star", line=dict(color="black", width=1.4))))

# wind speed
wt = [d[0] for d in wind_daily]
wm = [d[1] for d in wind_daily]
ws = [d[2] for d in wind_daily]
wx = to_dates(wt)
fig.add_trace(go.Scatter(x=wx + wx[::-1], y=[m + s for m, s in zip(wm, ws)] + [m - s for m, s in zip(wm, ws)][::-1],
                         xaxis="x2", yaxis="y2", mode="lines", fill="toself", fillcolor="rgba(127,140,141,0.35)",
                         line=dict(width=0), name="\u00b11\u03c3 propagated error", showlegend=False, hoverinfo="skip"))
pt_t, pt_v = flatten(wind_groups)
fig.add_trace(go.Scatter(x=to_dates(pt_t), y=pt_v, xaxis="x2", yaxis="y2", mode="markers", name="Wind speed", showlegend=False,
                         marker=dict(color="#2c3e50", size=4.2),
                         error_y=dict(type="constant", value=WIND_SIGMA, color="rgba(127,140,141,0.35)", thickness=2, width=0)))
fig.add_trace(go.Scatter(x=wx, y=wm, xaxis="x2", yaxis="y2", mode="lines", name="Daily mean", showlegend=False,
                         line=dict(color=RED, width=1.6)))

# latitude
lt, lv = flatten(lat_groups)
fig.add_trace(go.Scatter(x=to_dates(lt), y=lv, xaxis="x3", yaxis="y3", mode="markers", showlegend=False,
                         marker=dict(color="black", size=5.4)))

# altitude
at, av = flatten(alt_groups)
fig.add_trace(go.Scatter(x=to_dates(at), y=av, xaxis="x4", yaxis="y4", mode="markers", showlegend=False,
                         marker=dict(color="#7f8c8d", size=5.2)))
fig.add_trace(go.Scatter(x=to_dates([d[0] for d in alt_daily]), y=[d[1] for d in alt_daily], xaxis="x4", yaxis="y4",
                         mode="lines", showlegend=False, line=dict(color=RED, width=1.9)))

# histogram
bin_mid = [b + 2.5 for b in bin_left]
fig.add_trace(go.Bar(x=bin_mid, y=u_counts, width=5, xaxis="x5", yaxis="y5", name="U (zonal)", showlegend=False,
                     marker=dict(color="rgba(31,119,180,0.65)", line=dict(color="rgba(0,0,0,0.75)", width=1))))
fig.add_trace(go.Bar(x=bin_mid, y=v_counts, width=5, xaxis="x5", yaxis="y5", name="V (meridional)", showlegend=False,
                     marker=dict(color="rgba(255,127,14,0.65)", line=dict(color="rgba(0,0,0,0.75)", width=1))))


# legends are hand built: plotly's rows are too tall for these compact boxes
def key_rect(x0, y0, x1, y1, fill, edge="rgba(0,0,0,0)", lw=1):
    fig.add_trace(go.Scatter(x=[x0, x1, x1, x0, x0], y=[y0, y0, y1, y1, y0], xaxis="x6", yaxis="y6", mode="lines",
                             fill="toself", fillcolor=fill, line=dict(color=edge, width=lw), hoverinfo="skip", showlegend=False))


def key_marker(x, y, color, size, symbol="circle", lw=0):
    fig.add_trace(go.Scatter(x=[x], y=[y], xaxis="x6", yaxis="y6", mode="markers", hoverinfo="skip", showlegend=False,
                             marker=dict(color=color, size=size, symbol=symbol, line=dict(color="black", width=lw))))


BOX = "rgba(255,255,255,0.8)"
BOX_EDGE = "#cccccc"
key_rect(89.3, 284, 169.3, 332.7, BOX, BOX_EDGE)
key_marker(104.3, 292.3, RED, 5)
key_marker(104.3, 308.3, "#27ae60", 16, lw=1.4)
key_marker(104.3, 323.3, "#2471a3", 16, "star", 1.4)
key_rect(621.7, 425, 783.3, 475, BOX, BOX_EDGE)
key_rect(625, 430, 649, 439, "rgba(127,140,141,0.35)")
key_marker(637.3, 450.3, "#2c3e50", 4.2)
fig.add_trace(go.Scatter(x=[625, 649], y=[465.5, 465.5], xaxis="x6", yaxis="y6", mode="lines", hoverinfo="skip",
                         showlegend=False, line=dict(color=RED, width=1.6)))
key_rect(1442.4, 814.3, 1560.8, 848.3, BOX, BOX_EDGE)
key_rect(1446.4, 819.2, 1469, 827, "rgba(31,119,180,0.65)", "rgba(0,0,0,0.75)")
key_rect(1446.4, 834.8, 1469, 842.6, "rgba(255,127,14,0.65)", "rgba(0,0,0,0.75)")

legend_texts = [
    ("Track", 122.3, 292.3), ("Launch", 124.3, 308.3), ("Last fix", 122.3, 323.3),
    ("\u00b11\u03c3 propagated error", 655.3, 435.3), ("Wind speed", 655.3, 450.5), ("Daily mean", 655.3, 466),
    ("U (zonal)", 1477, 824), ("V (meridional)", 1477, 839),
]

tick_font = dict(family=FONT, size=13.9, color="black")
label_font = dict(family=FONT, size=13.9, color="black")
grid = "rgba(176,176,176,0.35)"


def axis(**kw):
    base = dict(showline=True, linecolor="black", linewidth=1.2, mirror=True, ticks="outside", ticklen=4, tickwidth=1,
                tickcolor="black", tickfont=tick_font, showgrid=True, gridcolor=grid, gridwidth=1, zeroline=False)
    base.update(kw)
    return base


COL1 = [pxx(83), pxx(788)]
COL2 = [pxx(862.5), pxx(1567.3)]
ROW1 = [pxy(338.3), pxy(31.7)]
ROW2 = [pxy(727.3), pxy(420.3)]
ROW3 = [pxy(1115.3), pxy(808.3)]
RANGE_L = ["2026-01-13 18:00", "2026-07-30 03:00"]
RANGE_R = ["2026-01-14 14:00", "2026-07-30 00:00"]

annots = []
for text, size, col, y in info_lines:
    # the small score line sits a little right of the others in the reference
    cx = 1218 if size == 12.6 else 1214.5
    annots.append(dict(text=text, xref="paper", yref="paper", x=pxx(cx), y=pxy(y), xanchor="center", yanchor="middle",
                       showarrow=False, font=dict(family=FONT, size=size, color=col)))
for title, cx, y in [("Flight Track", 435.5, 18.5), ("Wind Speed vs. Time", 435.5, 406), ("Latitude vs. Time", 1214.5, 406),
                     ("Balloon Altitude vs. Time", 435.5, 795), ("U and V Wind Components", 1214.5, 795)]:
    annots.append(dict(text=title, xref="paper", yref="paper", x=pxx(cx), y=pxy(y), xanchor="center", yanchor="middle",
                       showarrow=False, font=dict(family=FONT, size=16.6, color="black")))
# matplotlib centres rotated date labels on the tick
for xa, lab_y in [("x2", 755.5), ("x3", 755.5), ("x4", 1143.8)]:
    for d in date_ticks:
        annots.append(dict(text=d[2:], xref=xa, yref="paper", x=d, y=pxy(lab_y), xanchor="center", yanchor="middle",
                           textangle=-20, showarrow=False, font=tick_font))
for text, x, y in legend_texts:
    annots.append(dict(text=text, xref="paper", yref="paper", x=pxx(x), y=pxy(y), xanchor="left", yanchor="middle",
                       showarrow=False, font=dict(family=FONT, size=11, color="#1a1a1a")))

fig.update_layout(
    width=W, height=H, margin=dict(l=0, r=0, t=0, b=0, autoexpand=False), paper_bgcolor="white", plot_bgcolor="rgba(0,0,0,0)",
    font=dict(family=FONT), barmode="overlay", bargap=0, hovermode="closest", annotations=annots, showlegend=False,
    xaxis=axis(domain=COL1, range=[-180, 180], tickvals=map_x_ticks, showgrid=False, automargin=False, title=dict(text="Longitude (deg)", font=label_font, standoff=6)),
    yaxis=axis(domain=ROW1, range=[-90, 90], tickvals=map_y_ticks, showgrid=False, automargin=False, title=dict(text="Latitude (deg)", font=label_font, standoff=6)),
    xaxis2=axis(domain=COL1, anchor="y2", type="date", range=RANGE_L, tickvals=date_ticks, showticklabels=False, automargin=False),
    yaxis2=axis(domain=ROW2, anchor="x2", range=[0, 95.2], tickvals=[0, 20, 40, 60, 80], automargin=False, title=dict(text="Wind speed (m s<sup>\u22121</sup>)", font=label_font, standoff=10)),
    xaxis3=axis(domain=COL2, anchor="y3", type="date", range=RANGE_R, tickvals=date_ticks, showticklabels=False, automargin=False),
    yaxis3=axis(domain=ROW2, anchor="x3", range=[-90, 90], tickvals=map_y_ticks, automargin=False, title=dict(text="Latitude (deg)", font=label_font, standoff=7)),
    xaxis4=axis(domain=COL1, anchor="y4", type="date", range=RANGE_L, tickvals=date_ticks, showticklabels=False, automargin=False, title=dict(text="UTC date", font=label_font, standoff=47)),
    yaxis4=axis(domain=ROW3, anchor="x4", range=[8138, 14750], tickvals=[9000, 10000, 11000, 12000, 13000, 14000], tickformat="d", automargin=False, title=dict(text="Altitude (m AMSL)", font=label_font, standoff=7)),
    xaxis5=axis(domain=COL2, anchor="y5", range=[-100, 100], tickvals=[-100, -75, -50, -25, 0, 25, 50, 75, 100], automargin=False, title=dict(text="Wind speed (m s<sup>\u22121</sup>)", font=label_font, standoff=11)),
    yaxis5=axis(domain=ROW3, anchor="x5", range=[0, 189.4], tickvals=[0, 25, 50, 75, 100, 125, 150, 175], automargin=False, title=dict(text="Frequency", font=label_font, standoff=6)),
    # page-pixel overlay used only for the legend keys
    xaxis6=dict(domain=[0, 1], range=[0, W], visible=False, anchor="y6", fixedrange=True),
    yaxis6=dict(domain=[0, 1], range=[H, 0], visible=False, anchor="x6", fixedrange=True),
    shapes=[dict(type="rect", xref="x", yref="y", x0=-180, x1=180, y0=-90, y1=90, fillcolor="#d4e6f1", line=dict(width=0), layer="below")],
)
fig.write_html("out.html", config=dict(displayModeBar=False), post_script="document.body.style.margin='0';")
